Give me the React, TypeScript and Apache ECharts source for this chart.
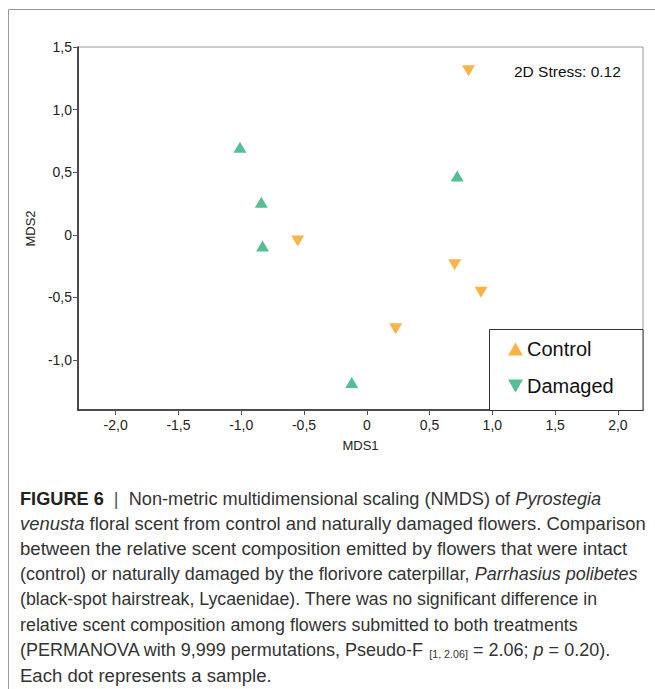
import React, { useEffect, useRef } from "react";
import * as echarts from "echarts";

const xTicks = [-2, -1.5, -1, -0.5, 0, 0.5, 1, 1.5, 2];
const yTicks = [-1, -0.5, 0, 0.5, 1, 1.5];
const controlX = [0.81, -0.55, 0.7, 0.91, 0.23];
const controlY = [1.31, -0.05, -0.24, -0.46, -0.75];
const damagedX = [-1.01, -0.84, -0.83, 0.72, -0.12];
const damagedY = [0.7, 0.26, -0.09, 0.47, -1.18];
const seriesNames = ["Control", "Damaged"];
const stressText = "2D Stress: 0.12";
const captionLines = [
  "{b|FIGURE 6}  {bar||}  Non-metric multidimensional scaling (NMDS) of {i|Pyrostegia}",
  "{i|venusta} floral scent from control and naturally damaged flowers. Comparison",
  "between the relative scent composition emitted by flowers that were intact",
  "(control) or naturally damaged by the florivore caterpillar, {i|Parrhasius polibetes}",
  "(black-spot hairstreak, Lycaenidae). There was no significant difference in",
  "relative scent composition among flowers submitted to both treatments",
  "(PERMANOVA with 9,999 permutations, Pseudo-F {sub|[1, 2.06]} = 2.06; {i|p} = 0.20).",
  "Each dot represents a sample.",
];
// right edge (px) where each caption line ends in the reference
const captionLineEnds = [601, 646, 628, 638, 598, 578, 610, 272];

const ORANGE = "#F7A11C";
const GREEN = "#2BAF78";
const DOWN = "path://M0,0 L10,0 L5,8.6 Z";
const UP = "path://M5,0 L10,8.6 L0,8.6 Z";

const fmt = (v: number) => (v === 0 ? "0" : v.toFixed(1).replace(".", ","));

const CAP_FS = 18.5;
const SUB_FS = 11;
const capFont = "'Liberation Sans', Arial, sans-serif";

function measureLine(line: string): number {
  const ctx = document.createElement("canvas").getContext("2d");
  if (!ctx) return 1;
  const fonts: Record<string, string> = {
    _: `${CAP_FS}px ${capFont}`,
    b: `bold ${CAP_FS}px ${capFont}`,
    bar: `${CAP_FS}px ${capFont}`,
    i: `italic ${CAP_FS}px ${capFont}`,
    sub: `${SUB_FS}px ${capFont}`,
  };
  const re = /\{(\w+)\|([^}]*)\}/g;
  let last = 0;
  let w = 0;
  let m: RegExpExecArray | null;
  const add = (txt: string, key: string) => {
    if (!txt) return;
    ctx.font = fonts[key] || fonts._;
    w += ctx.measureText(txt).width;
  };
  while ((m = re.exec(line))) {
    add(line.slice(last, m.index), "_");
    add(m[2], m[1]);
    last = m.index + m[0].length;
  }
  add(line.slice(last), "_");
  return w;
}

export default function App() {
  const ref = useRef<HTMLDivElement>(null);
  useEffect(() => {
    if (!ref.current) return;
    const chart = echarts.init(ref.current, null, { renderer: "svg" });
    const caption = captionLines.map((t, i) => {
      const w = measureLine(t);
      const sx = Math.min(1.15, Math.max(0.8, (captionLineEnds[i] - 20) / w));
      return {
        type: "text",
        x: 20,
        y: 498 + i * 25.3,
        scaleX: sx,
        style: {
          text: t,
          fontSize: CAP_FS,
          fontFamily: capFont,
          fill: "#333",
          verticalAlign: "middle",
          rich: {
            b: { fontSize: CAP_FS, fontWeight: "bold", fontFamily: capFont, fill: "#222" },
            bar: { fontSize: CAP_FS, fontFamily: capFont, fill: "#555" },
            i: { fontSize: CAP_FS, fontStyle: "italic", fontFamily: capFont, fill: "#333" },
            sub: { fontSize: SUB_FS, fontFamily: capFont, fill: "#333", verticalAlign: "bottom", padding: [6, 0, 0, 0] },
          },
        },
      };
    });
    chart.setOption({
      animation: false,
      backgroundColor: "#fff",
      grid: {
        left: 78,
        right: 12,
        top: 47,
        bottom: 279,
        show: true,
        borderColor: "#999",
        borderWidth: 1,
        backgroundColor: "transparent",
      },
      xAxis: {
        type: "value",
        min: -2.3,
        max: 2.2,
        name: "MDS1",
        nameLocation: "middle",
        nameGap: 29,
        nameTextStyle: { fontSize: 13, color: "#222", fontFamily: capFont },
        axisLine: { show: true, onZero: false, lineStyle: { color: "#222", width: 1.5 } },
        axisTick: { show: true, customValues: xTicks, length: 5, lineStyle: { color: "#555" } },
        axisLabel: {
          customValues: xTicks,
          formatter: fmt,
          fontSize: 14,
          color: "#222",
          margin: 8,
          fontFamily: capFont,
        },
        splitLine: { show: false },
      },
      yAxis: {
        type: "value",
        min: -1.4,
        max: 1.5,
        name: "MDS2",
        nameLocation: "middle",
        nameGap: 38,
        nameTextStyle: { fontSize: 13, color: "#222", fontFamily: capFont },
        axisLine: { show: true, onZero: false, lineStyle: { color: "#222", width: 1.5 } },
        axisTick: { show: true, customValues: yTicks, length: 5, lineStyle: { color: "#555" } },
        axisLabel: {
          customValues: yTicks,
          formatter: fmt,
          fontSize: 14,
          color: "#222",
          margin: 6,
          fontFamily: capFont,
        },
        splitLine: { show: false },
      },
      legend: {
        orient: "vertical",
        left: 503,
        top: 334,
        itemGap: 17,
        itemWidth: 15,
        itemHeight: 13,
        textStyle: { fontSize: 20, color: "#111", fontFamily: capFont, padding: [0, 0, 0, -1] },
        data: [
          { name: seriesNames[0], icon: UP, itemStyle: { color: ORANGE } },
          { name: seriesNames[1], icon: DOWN, itemStyle: { color: GREEN } },
        ],
        z: 10,
      },
      graphic: [
        {
          type: "rect",
          shape: { x: 489.5, y: 329.5, width: 153.5, height: 81 },
          style: { fill: "#fff", stroke: "#333", lineWidth: 1 },
          z: 5,
        },
        {
          type: "text",
          x: 514,
          y: 71,
          style: {
            text: stressText,
            fontSize: 15.5,
            fill: "#111",
            fontFamily: capFont,
            verticalAlign: "middle",
          },
        },
        {
          type: "polyline",
          shape: { points: [[8.5, 689], [8.5, 9.5], [655, 9.5]] },
          style: { stroke: "#999", lineWidth: 1, fill: "none" },
        },
        ...caption,
      ],
      series: [
        {
          name: seriesNames[0],
          type: "scatter",
          symbol: DOWN,
          symbolSize: [13, 11],
          itemStyle: { color: ORANGE },
          data: controlX.map((x, i) => [x, controlY[i]]),
        },
        {
          name: seriesNames[1],
          type: "scatter",
          symbol: UP,
          symbolSize: [13, 11],
          itemStyle: { color: GREEN },
          data: damagedX.map((x, i) => [x, damagedY[i]]),
        },
      ],
    });
    return () => chart.dispose();
  }, []);
  return (
    <div
      ref={ref}
      style={{ position: "absolute", left: 0, top: 0, width: 655, height: 689 }}
    />
  );
}
